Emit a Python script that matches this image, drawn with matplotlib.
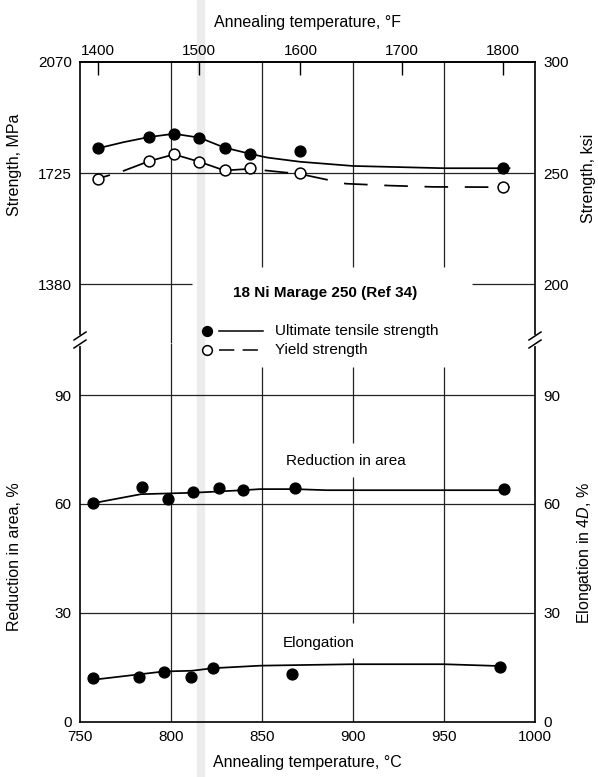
import matplotlib.pyplot as plt
from matplotlib.lines import Line2D
from matplotlib.patches import Rectangle

plt.rcParams['font.family'] = ['Liberation Sans', 'DejaVu Sans']
plt.rcParams['mathtext.fontset'] = 'custom'
plt.rcParams['mathtext.rm'] = 'Liberation Sans'
plt.rcParams['mathtext.it'] = 'Liberation Sans:italic'
plt.rcParams['lines.scale_dashes'] = False

# strength tests, annealing temperature in °F
temp_f = [1400, 1450, 1475, 1500, 1525, 1550, 1600, 1800]
uts_mpa = [1802, 1837, 1847, 1835, 1804, 1785, 1793, 1740]
ys_mpa = [1708, 1762, 1783, 1760, 1733, 1741, 1726, 1681]

# faired curves (°C, MPa)
uts_curve_c = [760, 774, 788, 801.7, 815.6, 829.4, 843.3, 853, 871, 900, 950, 986]
uts_curve = [1802, 1821, 1837, 1847, 1835, 1804, 1785, 1773, 1760, 1747, 1740, 1740]
ys_stub_c = [760, 766]
ys_stub = [1708, 1718]
ys_solid_c = [774, 788, 801.7, 815.6, 829.4]
ys_solid = [1732, 1762, 1783, 1760, 1733]
ys_dash_c = [829.4, 843.3, 871, 896, 920, 944, 986]
ys_dash = [1733, 1738, 1722, 1692, 1686, 1682, 1681]

# ductility, annealing temperature in °C
ra_temp_c = [757, 784, 798.5, 812, 826.5, 839.5, 868, 983]
ra_pct = [60.2, 64.6, 61.5, 63.2, 64.3, 63.8, 64.5, 64.0]
ra_curve_c = [757, 783.5, 812.5, 839.5, 849, 868, 885.5, 983]
ra_curve = [60.2, 62.7, 63.1, 63.8, 64.1, 64.1, 63.8, 63.8]
el_temp_c = [757, 782.5, 796, 811, 823, 866.5, 981]
el_pct = [11.9, 12.4, 13.7, 12.4, 14.8, 13.1, 15.1]
el_curve_c = [757, 796, 811.5, 823, 849, 900, 950, 981]
el_curve = [11.5, 13.8, 14.0, 14.7, 15.4, 15.8, 15.8, 15.3]

MPA_PER_KSI = 6.9


def c2f(c):
    return c * 9 / 5 + 32


def f2c(f):
    return (f - 32) * 5 / 9


W, H = 598, 777
fig = plt.figure(figsize=(W / 100, H / 100), dpi=100)


def fx(px):
    return px / W


def fy(py):
    return 1 - py / H


L, R = 80, 535
top_y, brk_y, bot_y = 62, 343, 721.5
ax_s = fig.add_axes([fx(L), fy(brk_y), fx(R - L), (brk_y - top_y) / H])
ax_p = fig.add_axes([fx(L), fy(bot_y), fx(R - L), (bot_y - brk_y) / H])

s_lo, s_hi = 1197, 2070
p_hi = 104.4
grid_kw = dict(color='#222222', lw=0.9, zorder=1)

for ax in (ax_s, ax_p):
    ax.set_facecolor('none')
    ax.set_xlim(750, 1000)
    for sp in ax.spines.values():
        sp.set_linewidth(1.2)
ax_s.spines['bottom'].set_visible(False)
ax_p.spines['top'].set_visible(False)

# top panel: strength
ax_s.set_ylim(s_lo, s_hi)
ax_s.set_xticks([])
ax_s.set_yticks([1380, 1725, 2070])
ax_s.tick_params(axis='y', length=0, pad=6, labelsize=11)

ax_s.axhline(1725, **grid_kw)
ax_s.hlines(1380, 750, 811.5, **grid_kw)
ax_s.hlines(1380, 965.4, 1000, **grid_kw)
ax_s.vlines(800, s_lo, s_hi, **grid_kw)
ax_s.vlines([850, 900, 950], 1433, s_hi, **grid_kw)

temp_f_c = [f2c(f) for f in temp_f]
ax_s.plot(uts_curve_c, uts_curve, color='black', lw=1.25, zorder=3)
ax_s.plot(ys_stub_c, ys_stub, color='black', lw=1.25, zorder=3)
ax_s.plot(ys_solid_c, ys_solid, color='black', lw=1.25, zorder=3)
ax_s.plot(ys_dash_c, ys_dash, color='black', lw=1.25, dashes=(17, 12), zorder=3)
ax_s.plot(temp_f_c, uts_mpa, 'o', color='black', ms=7.8, zorder=4)
ax_s.plot(temp_f_c, ys_mpa, 'o', mfc='white', mec='black', mew=1.1, ms=7.8, zorder=4)

ax_k = ax_s.twinx()
ax_k.set_ylim(s_lo / MPA_PER_KSI, s_hi / MPA_PER_KSI)
ax_k.set_yticks([200, 250, 300])
ax_k.tick_params(axis='y', length=0, pad=6, labelsize=11)
for sp in ax_k.spines.values():
    sp.set_visible(False)

sec = ax_s.secondary_xaxis('top', functions=(c2f, f2c))
sec.set_xticks([1400, 1500, 1600, 1700, 1800])
sec.tick_params(direction='in', length=9, width=1, pad=3, labelsize=11)
sec.spines['top'].set_linewidth(1.2)
sec.set_xlabel('Annealing temperature, °F', fontsize=11.5, labelpad=12)

# bottom panel: ductility
ax_p.set_ylim(0, p_hi)
ax_p.set_xticks([750, 800, 850, 900, 950, 1000])
ax_p.set_yticks([0, 30, 60, 90])
ax_p.tick_params(length=0, labelsize=11)
ax_p.tick_params(axis='x', pad=6)
ax_p.tick_params(axis='y', pad=6)
ax_p.set_xlabel('Annealing temperature, °C', fontsize=11.5, labelpad=8)

for yv in (30, 60, 90):
    ax_p.axhline(yv, **grid_kw)
ax_p.vlines(800, 0, p_hi, **grid_kw)
ax_p.vlines([850, 950], 0, 97.7, **grid_kw)
for lo, hi in ((0, 17.5), (27.2, 67.4), (76.8, 97.7)):
    ax_p.vlines(900, lo, hi, **grid_kw)

ax_p.plot(ra_curve_c, ra_curve, color='black', lw=1.25, zorder=3)
ax_p.plot(ra_temp_c, ra_pct, 'o', color='black', ms=7.8, zorder=4)
ax_p.plot(el_curve_c, el_curve, color='black', lw=1.25, zorder=3)
ax_p.plot(el_temp_c, el_pct, 'o', color='black', ms=7.8, zorder=4)
ax_p.text(896, 71.9, 'Reduction in area', ha='center', va='center', fontsize=11)
ax_p.text(881, 21.6, 'Elongation', ha='center', va='center', fontsize=11)

ax_e = ax_p.twinx()
ax_e.set_ylim(0, p_hi)
ax_e.set_yticks([0, 30, 60, 90])
ax_e.tick_params(axis='y', length=0, pad=6, labelsize=11)
for sp in ax_e.spines.values():
    sp.set_visible(False)

# axis titles
fig.text(fx(15), fy(165), 'Strength, MPa', rotation=90, ha='center', va='center', fontsize=11.5)
fig.text(fx(588), fy(178), 'Strength, ksi', rotation=90, ha='center', va='center', fontsize=11.5)
fig.text(fx(15), fy(557), 'Reduction in area, %', rotation=90, ha='center', va='center', fontsize=11.5)
fig.text(fx(584), fy(553), 'Elongation in 4$\\mathit{D}$, %', rotation=90,
         ha='center', va='center', fontsize=11.5)

# break marks on both side axes
for xs in (L, R):
    fig.add_artist(Line2D([fx(xs), fx(xs)], [fy(337), fy(344)], transform=fig.transFigure,
                          color='white', lw=3, zorder=10))
    for dy in (0, 8):
        fig.add_artist(Line2D([fx(xs - 6), fx(xs + 6)], [fy(340 + dy), fy(332 + dy)],
                              transform=fig.transFigure, color='black', lw=1.1, zorder=11))

# caption block
fig.text(fx(325), fy(293), '18 Ni Marage 250 (Ref 34)', ha='center', va='center',
         fontsize=11, fontweight='bold')
for row_y, filled, dash, label in ((331, True, None, 'Ultimate tensile strength'),
                                   (350, False, (11, 6), 'Yield strength')):
    fig.add_artist(Line2D([fx(207)], [fy(row_y)], transform=fig.transFigure, marker='o', ms=7,
                          mfc='black' if filled else 'white', mec='black', mew=1.1, ls='none'))
    ln = Line2D([fx(219), fx(263)], [fy(row_y), fy(row_y)], transform=fig.transFigure,
                color='black', lw=1.1)
    if dash:
        ln.set_dashes(dash)
    fig.add_artist(ln)
    fig.text(fx(275), fy(row_y), label, ha='left', va='center', fontsize=11)

# light vertical scan streak
fig.patches.append(Rectangle((fx(197), 0), fx(7), 1, transform=fig.transFigure,
                             color='#ececec', zorder=-5))

fig.savefig('out.png', dpi=100)
